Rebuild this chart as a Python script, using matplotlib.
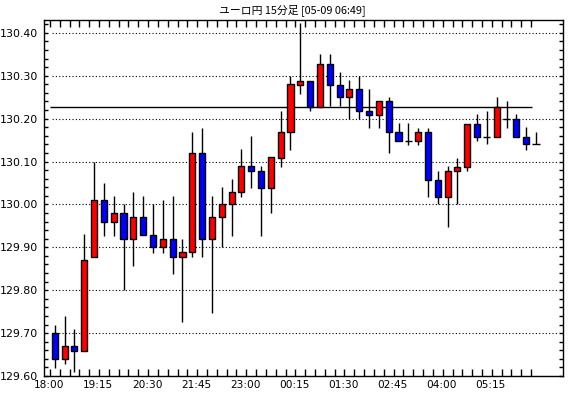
import matplotlib
matplotlib.use("Agg")
import matplotlib.pyplot as plt

# 15分足 ユーロ円 (18:00 - 06:15)
timeLabels = ["18:00", "19:15", "20:30", "21:45", "23:00",
              "00:15", "01:30", "02:45", "04:00", "05:15"]

opens = [129.700, 129.640, 129.670, 129.658, 129.878, 130.010, 129.958, 129.980, 129.919, 129.970,
         129.928, 129.900, 129.919, 129.878, 129.888, 130.119, 129.919, 129.970, 130.000, 130.028,
         130.089, 130.079, 130.039, 130.109, 130.170, 130.279, 130.288, 130.228, 130.328, 130.279,
         130.250, 130.270, 130.219, 130.209, 130.240, 130.170, 130.149, 130.149, 130.170, 130.058,
         130.018, 130.079, 130.088, 130.188, 130.158, 130.158, 130.200, 130.200, 130.158, 130.140]
highs = [129.720, 129.740, 129.710, 129.930, 130.100, 130.050, 130.020, 130.000, 130.029, 130.020,
         130.000, 130.010, 130.020, 129.919, 130.170, 130.179, 130.020, 130.040, 130.059, 130.129,
         130.159, 130.089, 130.110, 130.219, 130.300, 130.422, 130.288, 130.350, 130.350, 130.309,
         130.289, 130.300, 130.270, 130.240, 130.250, 130.190, 130.190, 130.179, 130.179, 130.079,
         130.089, 130.109, 130.188, 130.210, 130.219, 130.250, 130.240, 130.210, 130.180, 130.170]
lows = [129.618, 129.627, 129.610, 129.658, 129.878, 129.927, 129.927, 129.800, 129.857, 129.928,
        129.887, 129.887, 129.838, 129.726, 129.878, 129.878, 129.748, 129.900, 129.927, 130.018,
        130.039, 129.927, 129.979, 130.088, 130.128, 130.258, 130.219, 130.228, 130.229, 130.229,
        130.200, 130.200, 130.178, 130.178, 130.119, 130.149, 130.139, 130.139, 130.018, 130.000,
        129.948, 130.000, 130.079, 130.148, 130.140, 130.158, 130.178, 130.158, 130.126, 130.140]
closes = [129.640, 129.670, 129.658, 129.870, 130.010, 129.958, 129.980, 129.919, 129.970, 129.928,
          129.900, 129.919, 129.878, 129.888, 130.119, 129.919, 129.970, 130.000, 130.028, 130.089,
          130.079, 130.039, 130.110, 130.170, 130.280, 130.288, 130.228, 130.328, 130.279, 130.250,
          130.270, 130.219, 130.209, 130.240, 130.170, 130.149, 130.149, 130.170, 130.058, 130.018,
          130.079, 130.088, 130.188, 130.158, 130.158, 130.227, 130.200, 130.158, 130.140, 130.140]

refLevel = 130.228
gridLevels = [129.60, 129.70, 129.80, 129.90, 130.00, 130.10, 130.20, 130.30, 130.40]


def drawCandles(ax):
    n = len(opens)
    xs = list(range(n))
    ax.vlines(xs, lows, highs, color="black", linewidth=1.0, zorder=2)
    for i in xs:
        o, c = opens[i], closes[i]
        if abs(c - o) < 1e-9:
            # 同値 (十字線)
            ax.hlines(o, i - 0.36, i + 0.36, color="black", linewidth=1.0, zorder=3)
            continue
        color = "#ff0000" if c > o else "#0000ff"
        ax.bar(i, abs(c - o), bottom=min(o, c), width=0.62, color=color,
               edgecolor="black", linewidth=1.0, zorder=3)


def main():
    fig = plt.figure(figsize=(5.7, 3.98), dpi=100)
    ax = fig.add_axes([44 / 570, 22 / 398, 519 / 570, 356 / 398])

    n = len(opens)
    ax.hlines(gridLevels, -0.3, 51.1, color="black", linewidth=0.8,
              linestyle=(0, (1, 2)), zorder=1)
    ax.hlines(refLevel, -0.5, 48.6, color="black", linewidth=1.0, zorder=1)

    drawCandles(ax)

    ax.set_xlim(-1.1, 51.75)
    ax.set_ylim(129.60, 130.43)

    # x: 目盛りは足の境目、ラベルは5本ごと
    ax.set_xticks([i - 0.5 for i in range(n)], minor=True)
    ax.set_xticks([5 * k - 0.6 for k in range(len(timeLabels))])
    ax.set_xticklabels(timeLabels)
    ax.tick_params(axis="x", which="minor", direction="in", length=5, width=1,
                   top=True, bottom=True)
    ax.tick_params(axis="x", which="major", length=0, pad=3, labelsize=7.6)

    ax.set_yticks(gridLevels)
    ax.set_yticklabels(["%.2f" % v for v in gridLevels])
    ax.set_yticks([129.60 + 0.02 * k for k in range(42)], minor=True)
    ax.tick_params(axis="y", which="both", direction="in", length=3, width=1,
                   left=True, right=True, labelsize=7.9, pad=4)

    for s in ax.spines.values():
        s.set_linewidth(1.0)

    fig.text(292 / 570, 1 - 10 / 398, "ユーロ円 15分足 [05-09 06:49]", fontsize=7.8,
             family=["Noto Sans CJK JP", "DejaVu Sans"], ha="center", va="center")

    fig.savefig("out.png", dpi=100)


if __name__ == "__main__":
    main()
